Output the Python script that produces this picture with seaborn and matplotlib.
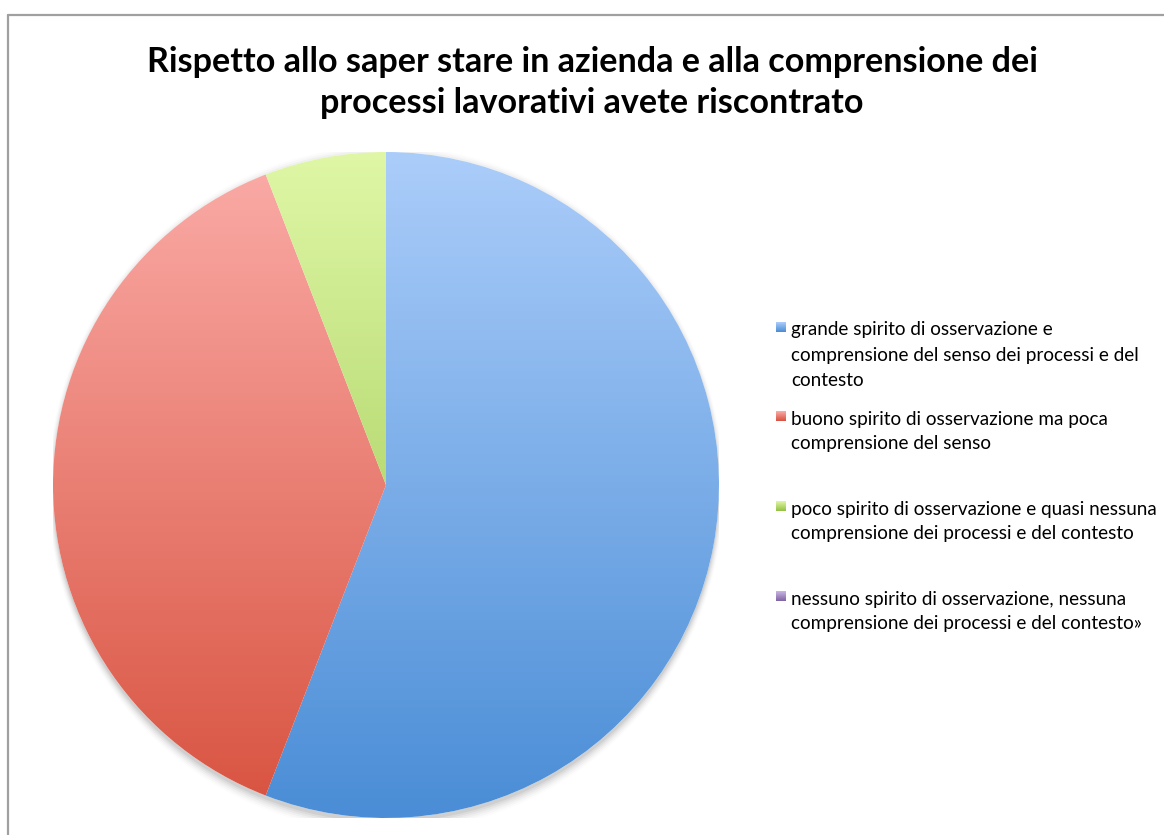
import numpy as np
import matplotlib
matplotlib.use("Agg")
import matplotlib.pyplot as plt
import seaborn as sns
from matplotlib.colors import LinearSegmentedColormap
from matplotlib.lines import Line2D
from matplotlib.patches import Ellipse

sns.set_theme(style="white")
plt.rcParams["font.family"] = ["Lato", "DejaVu Sans"]

title_lines = ["Rispetto allo saper stare in azienda e alla comprensione dei",
               "processi lavorativi avete riscontrato"]
categories = [
    "grande spirito di osservazione e\ncomprensione del senso dei processi e del\ncontesto",
    "buono spirito di osservazione ma poca\ncomprensione del senso",
    "poco spirito di osservazione e quasi nessuna\ncomprensione dei processi e del contesto",
    "nessuno spirito di osservazione, nessuna\ncomprensione dei processi e del contesto\u00bb",
]
counts = [19, 13, 2, 0]
# light (top) and dark (bottom) tone of each slice's vertical gradient
top_colors = ["#abcdfa", "#fbaca8", "#dff7a6", "#c9b6e4"]
bottom_colors = ["#4a8dd6", "#d8523f", "#93c044", "#8064a2"]

W, H = 1164, 835
fig = plt.figure(figsize=(W / 100, H / 100), dpi=100)
fig.patch.set_facecolor("white")

# pie axes: centre (386, 485) px, radius 333 px
cx, cy, r = 386, 485, 333
ax = fig.add_axes([(cx - r) / W, (H - cy - r) / H, 2 * r / W, 2 * r / H])
ax.set_xlim(-1, 1)
ax.set_ylim(-1, 1)
ax.set_aspect("equal")
ax.axis("off")

# soft shadow under the pie
for k, a in enumerate(np.linspace(0.05, 0.012, 6)):
    ax.add_patch(Ellipse((0, -0.012), 2 + 0.006 * k, 2 + 0.012 * k,
                         facecolor="black", alpha=a, edgecolor="none", zorder=0))
ax.add_patch(Ellipse((0, 0), 2, 2, facecolor="white", edgecolor="none", zorder=0.5))

wedges, _ = ax.pie(counts, startangle=90, counterclock=False, radius=1,
                   wedgeprops=dict(linewidth=0, edgecolor="none"))
grad = np.linspace(0, 1, 256).reshape(-1, 1)
for w, c0, c1 in zip(wedges, top_colors, bottom_colors):
    w.set_facecolor("none")
    w.set_zorder(1)
    cmap = LinearSegmentedColormap.from_list("g", [c0, c1])
    im = ax.imshow(grad, cmap=cmap, extent=(-1, 1, -1, 1), origin="upper",
                   aspect="auto", zorder=1, interpolation="bilinear")
    im.set_clip_path(w)
ax.set_xlim(-1, 1)
ax.set_ylim(-1, 1)

# title
for i, line in enumerate(title_lines):
    fig.text(592 / W, 1 - (62 + 41 * i) / H, line, ha="center", va="center",
             fontsize=24.6, fontweight="bold", color="black")

# legend: fixed slots, one square marker per entry
slot_y = [328, 417, 507, 597]
gx = np.linspace(0, 1, 32).reshape(-1, 1)
for y0, label, c0, c1 in zip(slot_y, categories, top_colors, bottom_colors):
    sq = fig.add_axes([776 / W, 1 - (y0 + 4) / H, 10 / W, 10 / H])
    sq.imshow(gx, cmap=LinearSegmentedColormap.from_list("s", [c0, c1]),
              aspect="auto", extent=(0, 1, 0, 1), origin="upper")
    sq.axis("off")
    for j, txt in enumerate(label.split("\n")):
        fig.text(791 / W, 1 - (y0 + 2 + 25 * j) / H, txt, ha="left", va="center",
                 fontsize=13.6, color="black")

# outer frame (top and left edges)
fig.add_artist(Line2D([8 / W, 1], [1 - 15 / H, 1 - 15 / H], color="#a0a0a0", lw=1.6))
fig.add_artist(Line2D([8 / W, 8 / W], [0, 1 - 15 / H], color="#a0a0a0", lw=1.6))

fig.savefig("out.png", dpi=100, facecolor="white")
